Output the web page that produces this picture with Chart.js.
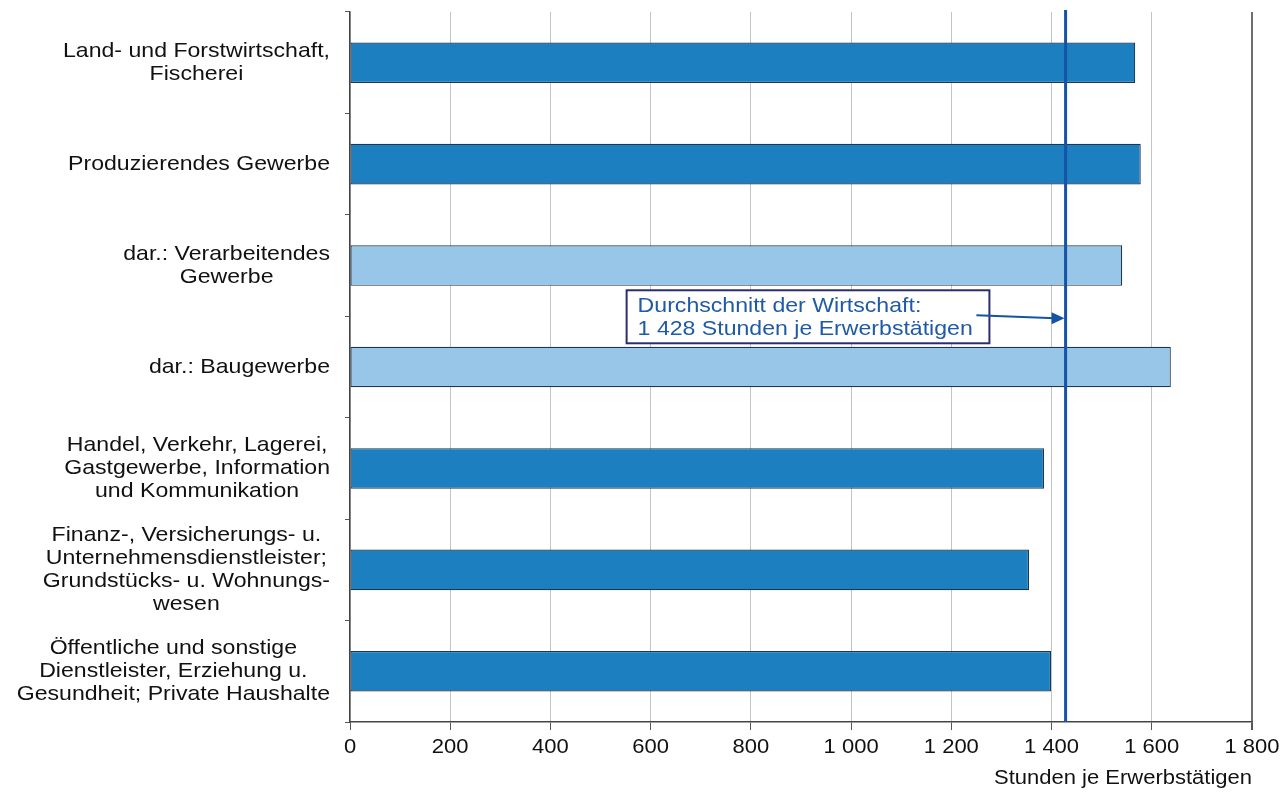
<!DOCTYPE html>
<html>
<head>
<meta charset="utf-8">
<script src="https://cdn.jsdelivr.net/npm/chart.js@4.4.0/dist/chart.umd.min.js"></script>
<style>
  html, body { margin: 0; padding: 0; background: #fff; }
  #wrap { width: 1284px; height: 793px; }
</style>
</head>
<body>
<div id="wrap"><canvas id="chart"></canvas></div>
<script>
// Arbeitsstunden je Erwerbstätigen nach Wirtschaftsbereichen
const categories = [
  ['Land- und Forstwirtschaft,', 'Fischerei'],
  ['Produzierendes Gewerbe'],
  ['dar.: Verarbeitendes', 'Gewerbe'],
  ['dar.: Baugewerbe'],
  ['Handel, Verkehr, Lagerei,', 'Gastgewerbe, Information', 'und Kommunikation'],
  ['Finanz-, Versicherungs- u.', 'Unternehmensdienstleister;', 'Grundstücks- u. Wohnungs-', 'wesen'],
  ['Öffentliche und sonstige', 'Dienstleister, Erziehung u.', 'Gesundheit; Private Haushalte']
];
const hours = [1567, 1578, 1541, 1638, 1385, 1355, 1399];
const isSubgroup = [false, false, true, true, false, false, false];
const average = 1428;
const averageLabel = ['Durchschnitt der Wirtschaft:', '1 428 Stunden je Erwerbstätigen'];
const xTicks = [0, 200, 400, 600, 800, 1000, 1200, 1400, 1600, 1800];
const xTitle = 'Stunden je Erwerbstätigen';

const DARK = '#1b7fc0';
const LIGHT = '#98c6e8';
const FONT = '"Liberation Sans", Arial, sans-serif';
const STRETCH = 1.1; // source text is a little wide

function fmt(v) {
  return String(v).replace(/\B(?=(\d{3})+(?!\d))/g, ' ');
}

function wideText(ctx, text, x, y) {
  ctx.save();
  ctx.translate(x, y);
  ctx.scale(STRETCH, 1);
  ctx.fillText(text, 0, 0);
  ctx.restore();
}

// all axis texts drawn here
const labelPlugin = {
  id: 'axisTexts',
  afterDraw(chart) {
    const { ctx, scales, chartArea } = chart;
    ctx.save();
    ctx.fillStyle = '#111';
    ctx.textBaseline = 'middle';

    // category labels: block right-aligned to the axis, lines centred inside it
    ctx.font = '21px ' + FONT;
    ctx.textAlign = 'center';
    const right = scales.y.right - 20;
    const lh = 23;
    categories.forEach((lines, i) => {
      const yc = scales.y.getPixelForValue(i);
      const w = Math.max(...lines.map(l => ctx.measureText(l).width)) * STRETCH;
      const cx = right - w / 2;
      const y0 = yc - (lines.length - 1) * lh / 2;
      lines.forEach((l, j) => wideText(ctx, l, cx, y0 + j * lh));
    });

    // value ticks
    ctx.font = '20px ' + FONT;
    xTicks.forEach(v => wideText(ctx, fmt(v), scales.x.getPixelForValue(v), chartArea.bottom + 25));

    // axis title
    ctx.textAlign = 'right';
    ctx.font = '20px ' + FONT;
    wideText(ctx, xTitle, chartArea.right, chartArea.bottom + 56);
    ctx.restore();
  }
};

// average line + callout box
const averagePlugin = {
  id: 'averageLine',
  afterDatasetsDraw(chart) {
    const { ctx, chartArea, scales } = chart;
    const x = scales.x.getPixelForValue(average);
    ctx.save();
    ctx.strokeStyle = '#1553a6';
    ctx.lineWidth = 3;
    ctx.beginPath();
    ctx.moveTo(x, chartArea.top - 2);
    ctx.lineTo(x, chartArea.bottom);
    ctx.stroke();

    // callout between 3rd and 4th category
    const yMid = (scales.y.getPixelForValue(2) + scales.y.getPixelForValue(3)) / 2;
    const bx1 = scales.x.getPixelForValue(552);
    const bx2 = scales.x.getPixelForValue(1276);
    const by1 = yMid - 26, by2 = yMid + 27;
    ctx.fillStyle = '#fff';
    ctx.fillRect(bx1, by1, bx2 - bx1, by2 - by1);
    ctx.strokeStyle = '#2b2e6c';
    ctx.lineWidth = 2;
    ctx.strokeRect(bx1, by1, bx2 - bx1, by2 - by1);
    ctx.fillStyle = '#1f5aa6';
    ctx.font = '21px ' + FONT;
    ctx.textBaseline = 'middle';
    ctx.textAlign = 'left';
    wideText(ctx, averageLabel[0], bx1 + 11, yMid - 10);
    wideText(ctx, averageLabel[1], bx1 + 11, yMid + 13);

    // arrow to the average line
    const ax1 = scales.x.getPixelForValue(1250);
    const ay1 = yMid - 1, ay2 = yMid + 2;
    ctx.strokeStyle = '#1553a6';
    ctx.lineWidth = 2;
    ctx.beginPath();
    ctx.moveTo(ax1, ay1);
    ctx.lineTo(x - 10, ay2);
    ctx.stroke();
    ctx.fillStyle = '#1553a6';
    ctx.beginPath();
    ctx.moveTo(x - 1, ay2);
    ctx.lineTo(x - 14, ay2 - 6);
    ctx.lineTo(x - 14, ay2 + 6);
    ctx.closePath();
    ctx.fill();
    ctx.restore();
  }
};

new Chart(document.getElementById('chart'), {
  type: 'bar',
  data: {
    labels: categories.map(c => c.join(' ')),
    datasets: [{
      data: hours,
      backgroundColor: isSubgroup.map(s => s ? LIGHT : DARK),
      borderColor: '#1d3550',
      borderWidth: 1.2,
      borderSkipped: false,
      categoryPercentage: 1,
      barPercentage: 0.4
    }]
  },
  options: {
    indexAxis: 'y',
    responsive: true,
    maintainAspectRatio: false,
    animation: false,
    layout: { padding: { top: 12, right: 32, left: 0, bottom: 0 } },
    plugins: {
      legend: { display: false },
      tooltip: { enabled: false }
    },
    scales: {
      x: {
        min: 0,
        max: 1800,
        afterBuildTicks: axis => { axis.ticks = xTicks.map(v => ({ value: v })); },
        afterFit: axis => {
          axis.height = 71;
          axis.paddingLeft = 0;
          axis.paddingRight = 0;
        },
        grid: {
          color: ctx => ctx.tick && ctx.tick.value === 1800 ? '#6e6e6e' : '#c4c4c4',
          lineWidth: ctx => ctx.tick && ctx.tick.value === 1800 ? 2 : 1,
          tickColor: '#555',
          tickLength: 8
        },
        border: { color: '#444', width: 1.5 },
        ticks: { display: false }
      },
      y: {
        afterFit: axis => {
          axis.width = 350;
          axis.paddingTop = 0;
          axis.paddingBottom = 0;
        },
        grid: {
          drawOnChartArea: false,
          color: '#555',
          tickLength: 5,
          offset: true
        },
        border: { color: '#444', width: 1.5 },
        ticks: { display: false }
      }
    }
  },
  plugins: [averagePlugin, labelPlugin]
});
</script>
</body>
</html>
